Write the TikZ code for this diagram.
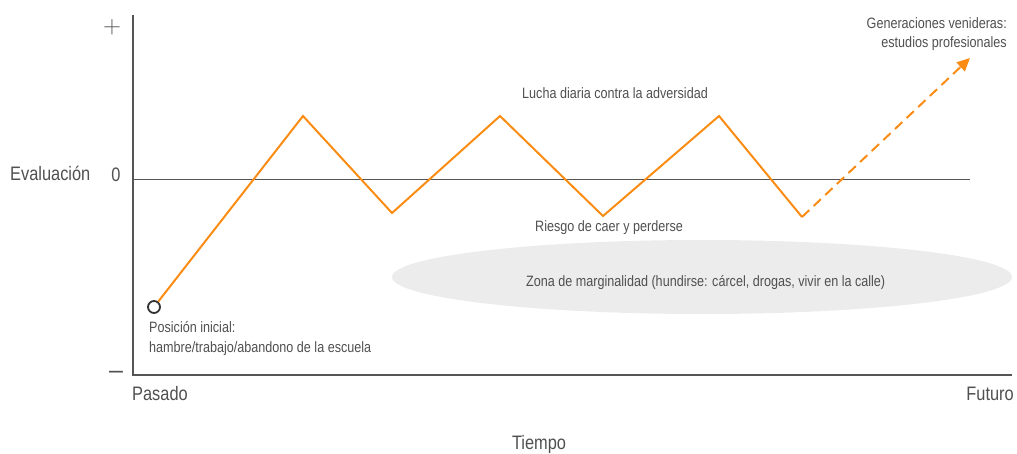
\documentclass[tikz,border=0pt]{standalone}
\usepackage{fontspec}
\setmainfont{Liberation Sans}[FakeStretch=0.84]
\newfontfamily\plainfont{Liberation Sans}
\usetikzlibrary{arrows.meta,shapes.geometric}
\definecolor{txt}{HTML}{505050}
\definecolor{axis}{HTML}{555555}
\definecolor{org}{RGB}{250,140,20}
\definecolor{zone}{HTML}{ECECEC}
\tikzset{
  small/.style={text=txt,inner sep=0pt,font=\fontsize{15}{18}\selectfont},
  big/.style={text=txt,inner sep=0pt,font=\fontsize{19.5}{22}\selectfont},
  axisline/.style={draw=axis,line width=1.2pt},
  orangeline/.style={draw=org,line width=2pt,line join=miter},
}
\begin{document}
\begin{tikzpicture}[x=1pt,y=-1pt]
\useasboundingbox (0,0) rectangle (1017,453);
% zone ellipse
\node[ellipse,fill=zone,minimum width=620pt,minimum height=74pt,inner sep=0pt] (zone) at (702,277) {};
\node[small,anchor=base west] (zonelbl) at (526,286) {Zona de marginalidad (hundirse: cárcel, drogas, vivir en la calle)};
% axes
\coordinate (otop) at (133,15);
\coordinate (orig) at (133,375);
\coordinate (xend) at (1012,375);
\coordinate (z0) at (133,179);
\coordinate (z1) at (970,179);
\draw[axisline] (otop) -- (orig) -- (xend);
\draw[draw=axis,line width=1pt] (z0) -- (z1);
% axis labels
\node[text=txt,inner sep=0pt,font=\fontsize{24}{24}\selectfont] (plus) at (112,27) {$+$};
\node[text=txt,inner sep=0pt,font=\plainfont\fontsize{25}{25}\selectfont] (minus) at (116,375) {–};
\node[big,anchor=base] (zero) at (116,181) {0};
\node[big,anchor=base west] (evl) at (10,180) {Evaluación};
\node[big,anchor=base west] (pasado) at (132,400) {Pasado};
\node[big,anchor=base east] (futuro) at (1014,400) {Futuro};
\node[big,anchor=base] (tiempo) at (539,449) {Tiempo};
% path
\coordinate (p1) at (303,116);
\coordinate (t1) at (392,213);
\coordinate (p2) at (500,116);
\coordinate (t2) at (603,216);
\coordinate (p3) at (719,116);
\coordinate (t3) at (802,217);
\coordinate (tip) at (970,58);
\node[circle,draw=black!80,line width=1.8pt,fill=white,minimum size=12pt,inner sep=0pt] (start) at (154,307) {};
\draw[orangeline] (start) -- (p1) -- (t1) -- (p2) -- (t2) -- (p3) -- (t3);
\draw[draw=org,line width=2pt,dash pattern=on 10pt off 6pt,-{Triangle[length=13pt,width=12pt]}] (t3) -- (tip);
% labels
\node[small,anchor=base west] (lucha) at (522,98) {Lucha diaria contra la adversidad};
\node[small,anchor=base west] (riesgo) at (535,231) {Riesgo de caer y perderse};
\node[small,anchor=base east] (gen1) at (1007,28) {Generaciones venideras:};
\node[small,anchor=base east] (gen2) at (1007,47) {estudios profesionales};
\node[small,anchor=base west] (pos1) at (149,332) {Posición inicial:};
\node[small,anchor=base west] (pos2) at (149,352) {hambre/trabajo/abandono de la escuela};
\end{tikzpicture}
\end{document}
